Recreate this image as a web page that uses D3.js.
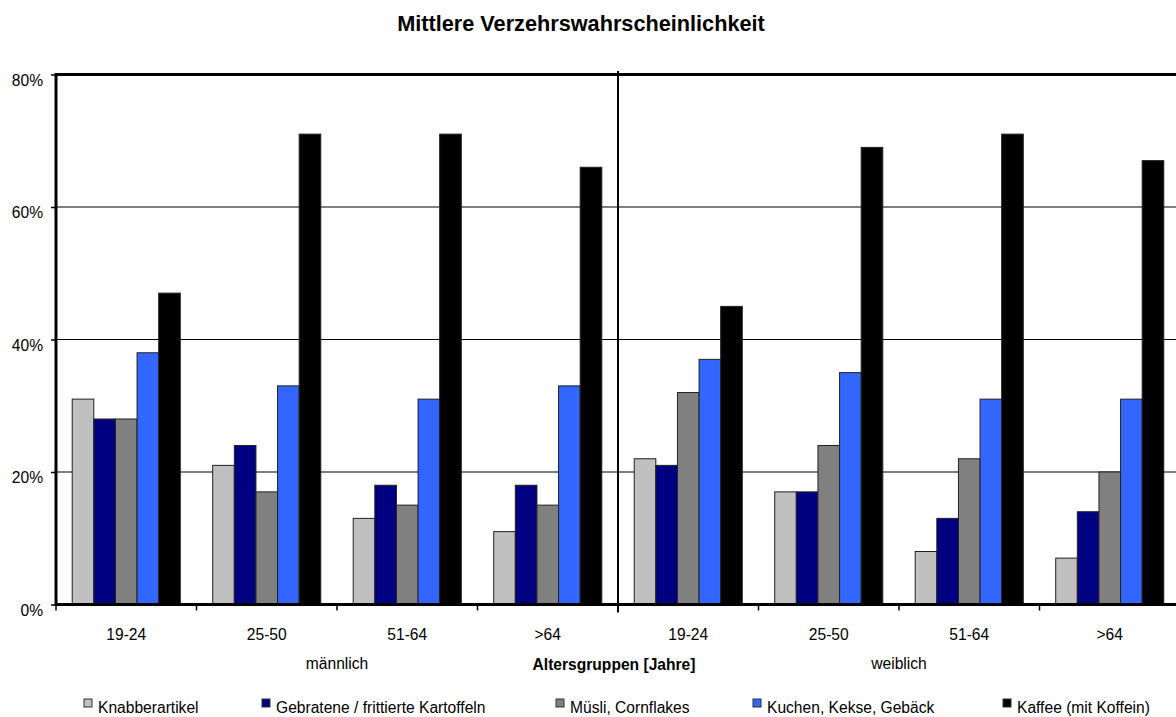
<!DOCTYPE html>
<html>
<head>
<meta charset="utf-8">
<script src="https://cdn.jsdelivr.net/npm/d3@7/dist/d3.min.js"></script>
<style>
  html, body { margin: 0; padding: 0; background: #fff; }
  svg { display: block; font-family: "Liberation Sans", Arial, sans-serif; }
</style>
</head>
<body>
<svg id="chart" width="1176" height="717"></svg>
<script>
// ---- data ----
const title = "Mittlere Verzehrswahrscheinlichkeit";
const ageGroups = ["19-24", "25-50", "51-64", ">64", "19-24", "25-50", "51-64", ">64"];
const sexes = ["männlich", "weiblich"];
const axisTitle = "Altersgruppen [Jahre]";
const seriesNames = ["Knabberartikel", "Gebratene / frittierte Kartoffeln", "Müsli, Cornflakes", "Kuchen, Kekse, Gebäck", "Kaffee (mit Koffein)"];
const seriesColors = ["#C0C0C0", "#000080", "#808080", "#3366FF", "#000000"];
const knabberartikel = [31, 21, 13, 11, 22, 17, 8, 7];
const kartoffeln     = [28, 24, 18, 18, 21, 17, 13, 14];
const muesli         = [28, 17, 15, 15, 32, 24, 22, 20];
const kuchen         = [38, 33, 31, 33, 37, 35, 31, 31];
const kaffee         = [47, 71, 71, 66, 45, 69, 71, 67];
const yTicks = [0, 20, 40, 60, 80];

const seriesValues = [knabberartikel, kartoffeln, muesli, kuchen, kaffee];

// ---- layout ----
const plotLeft = 56, plotTop = 74.5, plotBottom = 604.5, groupW = 140.5;
const plotRight = plotLeft + groupW * ageGroups.length;
const fontSize = 15.6;

const svg = d3.select("#chart");

const x = d3.scaleBand().domain(d3.range(ageGroups.length)).range([plotLeft, plotRight]).paddingInner(0).paddingOuter(0);
const x1 = d3.scaleBand().domain(d3.range(seriesNames.length)).range([0, x.bandwidth()]).paddingInner(0).paddingOuter(0.75);
const y = d3.scaleLinear().domain([0, 80]).range([plotBottom, plotTop]);

// title
svg.append("text").attr("x", 581).attr("y", 31).attr("text-anchor", "middle")
  .attr("font-weight", "bold").attr("font-size", 21.7).text(title);

// gridlines
svg.append("g").selectAll("line").data(yTicks.filter(d => d > 0 && d < 80)).join("line")
  .attr("x1", plotLeft).attr("x2", plotRight).attr("y1", d => y(d)).attr("y2", d => y(d))
  .attr("stroke", "#000").attr("stroke-width", 1.2);

// bars
const flat = [];
seriesValues.forEach((vals, s) => vals.forEach((v, g) => flat.push({ s, g, v })));
svg.append("g").selectAll("rect").data(flat).join("rect")
  .attr("x", d => x(d.g) + x1(d.s))
  .attr("y", d => y(d.v))
  .attr("width", x1.bandwidth())
  .attr("height", d => y(0) - y(d.v))
  .attr("fill", d => seriesColors[d.s])
  .attr("stroke", "#222").attr("stroke-width", 1);

// top border (80%)
svg.append("line").attr("x1", plotLeft).attr("x2", plotRight).attr("y1", y(80)).attr("y2", y(80))
  .attr("stroke", "#000").attr("stroke-width", 3);

// y axis
const yAxis = svg.append("g").attr("transform", `translate(${plotLeft},0)`)
  .call(d3.axisLeft(y).tickValues(yTicks).tickSize(5).tickPadding(8).tickFormat(d => d + "%"));
yAxis.select(".domain").remove();
yAxis.selectAll(".tick line").attr("stroke", "#000").attr("stroke-width", 1.5);
yAxis.selectAll(".tick text").attr("font-size", fontSize).attr("font-family", "Liberation Sans, Arial, sans-serif")
  .attr("fill", "#000").attr("dy", "0.68em");
svg.append("line").attr("x1", plotLeft).attr("x2", plotLeft).attr("y1", plotTop - 1.5).attr("y2", plotBottom + 1.5)
  .attr("stroke", "#000").attr("stroke-width", 3);

// x axis baseline
svg.append("line").attr("x1", plotLeft).attr("x2", plotRight).attr("y1", plotBottom).attr("y2", plotBottom)
  .attr("stroke", "#000").attr("stroke-width", 3);

// category boundary ticks
svg.append("g").selectAll("line").data(d3.range(ageGroups.length + 1)).join("line")
  .attr("x1", d => plotLeft + d * x.step()).attr("x2", d => plotLeft + d * x.step())
  .attr("y1", plotBottom).attr("y2", plotBottom + 6)
  .attr("stroke", "#000").attr("stroke-width", 1.5);

// divider between sexes
const half = ageGroups.length / 2;
svg.append("line").attr("x1", x(half)).attr("x2", x(half)).attr("y1", plotTop - 3.5).attr("y2", plotBottom + 8)
  .attr("stroke", "#000").attr("stroke-width", 2);

// age labels
svg.append("g").selectAll("text").data(ageGroups).join("text")
  .attr("x", (d, i) => x(i) + x.bandwidth() / 2).attr("y", 640)
  .attr("text-anchor", "middle").attr("font-size", fontSize).text(d => d);

// sex labels
svg.append("g").selectAll("text").data(sexes).join("text")
  .attr("x", (d, i) => x(i * half) + x.step() * half / 2).attr("y", 669)
  .attr("text-anchor", "middle").attr("font-size", fontSize).text(d => d);

// axis title
svg.append("text").attr("x", 614).attr("y", 670).attr("text-anchor", "middle")
  .attr("font-weight", "bold").attr("font-size", fontSize).text(axisTitle);

// legend
const legendX = [84, 262, 556, 753, 1003];
const lg = svg.append("g").selectAll("g").data(seriesNames).join("g")
  .attr("transform", (d, i) => `translate(${legendX[i]},0)`);
lg.append("rect").attr("x", 0).attr("y", 699).attr("width", 8).attr("height", 8)
  .attr("fill", (d, i) => seriesColors[i]).attr("stroke", "#333").attr("stroke-width", 1);
lg.append("text").attr("x", 14).attr("y", 713).attr("font-size", fontSize).text(d => d);
</script>
</body>
</html>
